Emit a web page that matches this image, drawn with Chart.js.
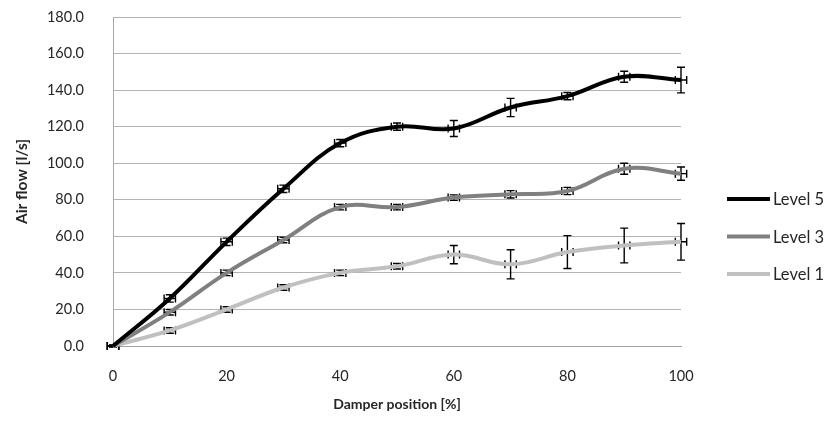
<!DOCTYPE html>
<html>
<head>
<meta charset="utf-8">
<script src="https://cdn.jsdelivr.net/npm/chart.js@4/dist/chart.umd.min.js"></script>
<style>
  html, body { margin: 0; padding: 0; background: #fff; }
  #wrap { width: 830px; height: 432px; position: relative; }
</style>
</head>
<body>
<div id="wrap"><canvas id="airflow-chart"></canvas></div>
<script>
// damper positions [%]
const positions = [0, 10, 20, 30, 40, 50, 60, 70, 80, 90, 100];

// air flow [l/s] per fan level
const level5 = [0, 26, 57, 86, 111, 120, 119, 130.5, 136.7, 147.3, 145.5];
const level3 = [0, 18.5, 40, 58, 76, 76, 81.2, 83, 84.8, 97, 94.3];
const level1 = [0, 8.5, 20, 32, 40, 43.6, 50, 44.7, 51.4, 55, 57];

// error bar half-widths (vertical, in l/s)
const level5Err = [0.5, 2, 2, 2, 2, 2, 4.4, 5, 2, 3, 7];
const level3Err = [0.5, 1.5, 1.5, 1.5, 1.5, 1.5, 1.5, 2, 2, 3, 3.6];
const level1Err = [0.5, 1.5, 1.5, 1.5, 1.5, 1.5, 5, 8, 9, 9.5, 10];

// horizontal error half-width (in % damper position)
const positionErr = [1, 1, 1, 1, 1, 1, 1, 1, 1, 1, 1];

const seriesNames = ['Level 5', 'Level 3', 'Level 1'];
const seriesColors = ['#000000', '#808080', '#c0c0c0'];
const yTicks = [0, 20, 40, 60, 80, 100, 120, 140, 160, 180];
const xTicks = [0, 20, 40, 60, 80, 100];

const FONT = 'Lato, "Open Sans", sans-serif';

function toPoints(values, errs) {
  return values.map((v, i) => ({ x: positions[i], y: v, err: errs[i], xErr: positionErr[i] }));
}

/**
 * Draw x and y error bars for every point using the chart scales
 * (underneath the lines, like the original)
 */
const errorBarPlugin = {
  id: 'errorBars',
  beforeDatasetsDraw(chart) {
    const ctx = chart.ctx;
    const xs = chart.scales.x;
    const ys = chart.scales.y;
    ctx.save();
    ctx.strokeStyle = '#000';
    ctx.lineWidth = 1.4;
    chart.data.datasets.forEach((ds, di) => {
      const meta = chart.getDatasetMeta(di);
      meta.data.forEach((pt, i) => {
        const d = ds.data[i];
        const px = pt.x, py = pt.y;
        const yTop = ys.getPixelForValue(d.y + d.err);
        const yBot = ys.getPixelForValue(d.y - d.err);
        const xL = xs.getPixelForValue(d.x - d.xErr);
        const xR = xs.getPixelForValue(d.x + d.xErr);
        const cap = 4;
        ctx.beginPath();
        // vertical
        ctx.moveTo(px, yTop); ctx.lineTo(px, yBot);
        ctx.moveTo(px - cap, yTop); ctx.lineTo(px + cap, yTop);
        ctx.moveTo(px - cap, yBot); ctx.lineTo(px + cap, yBot);
        // horizontal
        ctx.moveTo(xL, py); ctx.lineTo(xR, py);
        ctx.moveTo(xL, py - cap); ctx.lineTo(xL, py + cap);
        ctx.moveTo(xR, py - cap); ctx.lineTo(xR, py + cap);
        ctx.stroke();
      });
    });
    ctx.restore();
  }
};

/**
 * Legend on the right, line swatch + label
 */
const sideLegendPlugin = {
  id: 'sideLegend',
  afterDraw(chart) {
    const ctx = chart.ctx;
    const left = 727, lineLen = 43, top = 199, step = 37.5;
    ctx.save();
    ctx.font = '16.5px ' + FONT;
    ctx.textBaseline = 'middle';
    ctx.textAlign = 'left';
    chart.data.datasets.forEach((ds, i) => {
      const y = top + i * step;
      ctx.strokeStyle = ds.borderColor;
      ctx.lineWidth = 4;
      ctx.beginPath();
      ctx.moveTo(left, y);
      ctx.lineTo(left + lineLen, y);
      ctx.stroke();
      ctx.fillStyle = '#262626';
      ctx.fillText(ds.label, left + lineLen + 3, y + 1);
    });
    ctx.restore();
  }
};

const datasets = [level5, level3, level1].map((vals, i) => ({
  label: seriesNames[i],
  data: toPoints(vals, [level5Err, level3Err, level1Err][i]),
  borderColor: seriesColors[i],
  backgroundColor: seriesColors[i],
  borderWidth: 4,
  pointRadius: 0,
  tension: 0.4,
  clip: 8
}));

const ctx = document.getElementById('airflow-chart').getContext('2d');
const chart = new Chart(ctx, {
  type: 'line',
  data: { datasets: datasets },
  options: {
    responsive: true,
    maintainAspectRatio: false,
    animation: false,
    layout: { padding: { left: 0, top: 17, right: 149, bottom: 0 } },
    scales: {
      x: {
        type: 'linear',
        min: 0,
        max: 100,
        afterBuildTicks: s => { s.ticks = xTicks.map(v => ({ value: v })); },
        afterFit: s => { s.height = 86; },
        grid: { display: false, drawTicks: false },
        border: { display: true, color: '#a6a6a6', width: 1 },
        ticks: {
          padding: 22,
          color: '#262626',
          font: { family: FONT, size: 14.5 },
          maxRotation: 0
        },
        title: {
          display: true,
          text: 'Damper position [%]',
          color: '#262626',
          font: { family: FONT, size: 14, weight: 'bold' },
          padding: { top: 0, bottom: 19 }
        }
      },
      y: {
        min: 0,
        max: 180,
        afterBuildTicks: s => { s.ticks = yTicks.map(v => ({ value: v })); },
        afterFit: s => {
          s.width = 113;
          // tick padding would otherwise be added above the top label
          s.paddingTop = 0;
          s.paddingBottom = 0;
        },
        grid: { color: '#b3b3b3', lineWidth: 1, drawTicks: false },
        border: { display: true, color: '#a6a6a6', width: 1 },
        ticks: {
          padding: 29,
          color: '#262626',
          font: { family: FONT, size: 14.5 },
          callback: v => v.toFixed(1)
        },
        title: {
          display: true,
          text: 'Air flow [l/s]',
          color: '#262626',
          font: { family: FONT, size: 15.5, weight: 'bold' },
          padding: { top: 13, bottom: 0 }
        }
      }
    },
    plugins: {
      legend: { display: false },
      tooltip: { enabled: false }
    }
  },
  plugins: [errorBarPlugin, sideLegendPlugin]
});
</script>
</body>
</html>
